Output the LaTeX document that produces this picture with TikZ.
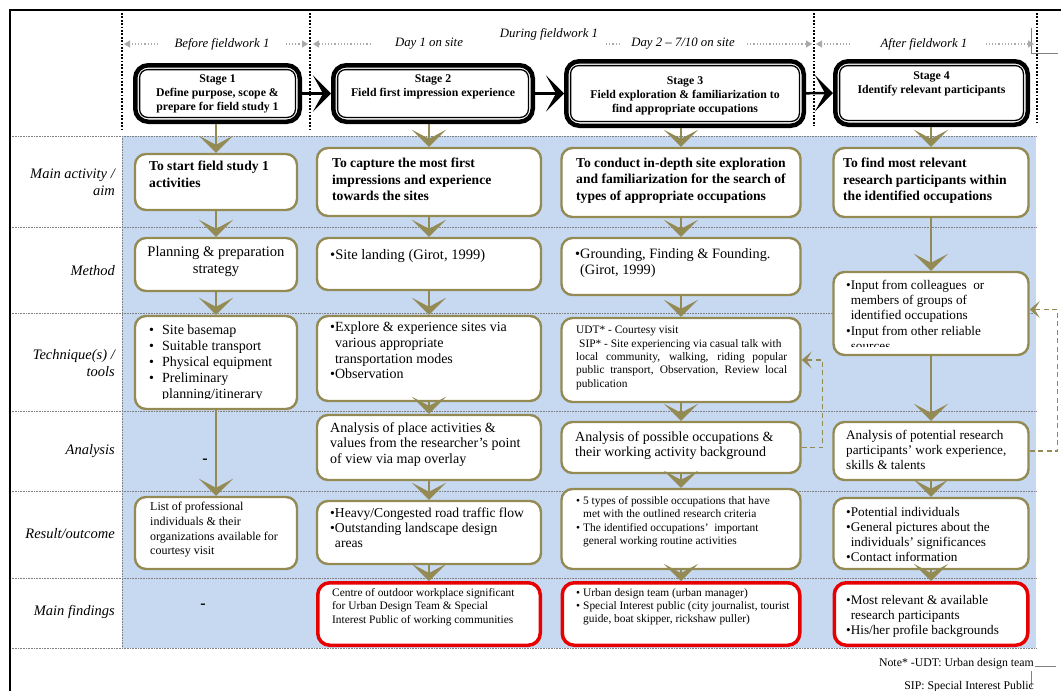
\documentclass[tikz,border=0pt]{standalone}
\usepackage{fontspec}
\setmainfont{Liberation Serif}
\usetikzlibrary{arrows.meta,positioning}

\definecolor{olivebox}{RGB}{148,138,84}
\definecolor{bandblue}{RGB}{198,217,241}
\definecolor{findred}{RGB}{230,0,0}
\definecolor{spangrey}{RGB}{170,170,170}

\newcommand{\stagefnt}{\fontsize{11.8}{14}\selectfont\bfseries}
\newcommand{\mainfnt}{\fontsize{13.6}{16.3}\selectfont\bfseries}
\newcommand{\bodyfnt}{\fontsize{14}{15.6}\selectfont}
\newcommand{\midfnt}{\fontsize{13.2}{15.2}\selectfont}
\newcommand{\smallfnt}{\fontsize{11.4}{13.4}\selectfont}
\newcommand{\labfnt}{\fontsize{14.5}{17}\selectfont\itshape}
\newcommand{\headfnt}{\fontsize{12.8}{15}\selectfont\itshape}
\newcommand{\notefnt}{\fontsize{11.8}{14}\selectfont}
\newcommand{\bul}{\textbullet}
\newcommand{\bulgap}{\hphantom{\textbullet}}

\begin{document}
\begin{tikzpicture}[x=1pt, y=-1pt,
    obox/.style={draw=olivebox, line width=2.4pt, rounded corners=11pt, fill=white, inner sep=0pt},
    rbox/.style={draw=findred, line width=3.5pt, rounded corners=12pt, fill=white, inner sep=0pt},
    stagebox/.style={draw, line width=4.5pt, rounded corners=13pt, fill=white, inner sep=0pt},
    txt/.style={anchor=north west, align=left, inner sep=0pt},
    flow/.style={draw=olivebox, line width=2pt, -{Stealth[length=17pt,width=34pt,inset=9pt]}},
    fb/.style={draw=olivebox, line width=1.5pt, dash pattern=on 5pt off 3.5pt, -{Stealth[length=10pt,width=17pt,inset=5pt]}},
    stagelink/.style={line width=2.5pt, -{Stealth[length=18pt,width=36pt,inset=10pt]}},
    span/.style={draw=spangrey, line width=1.2pt, dotted, -{Triangle[length=6pt,width=7pt]}},
    divider/.style={line width=1.8pt, dash pattern=on 1.8pt off 1.6pt},
    rowline/.style={draw=gray, line width=0.6pt, dash pattern=on 0.8pt off 0.8pt},
    rowlab/.style={anchor=east, align=right, inner sep=0pt, font=\labfnt}
]
\useasboundingbox (0,0) rectangle (1061,691);
\fill[white] (0,0) rectangle (1061,691);

% Band and grid
\fill[bandblue] (122,136) rectangle (1036,648);
\foreach \yy in {136,227,313,411,491,578,648}
    \draw[rowline] (10,\yy) -- (1036,\yy);
\draw[rowline] (122,136) -- (122,648);
\draw[line width=2pt] (1061,10) -- (10,10) -- (10,691);
\draw[gray, line width=0.5pt] (1031,28) -- (1031,53) -- (1058,53);
\draw[gray, line width=0.5pt] (1035,666) -- (1056,666);
\draw[gray, line width=0.5pt] (1031,671) -- (1031,687);

% Phase dividers
\foreach \xx/\yb in {122/130, 310/130, 814/126, 1037/122}
    \draw[divider] (\xx,13) -- (\xx,\yb);

% Phase labels
\node[font=\headfnt, inner sep=0pt] (hb) at (222,44) {Before fieldwork 1};
\node[font=\headfnt, inner sep=0pt] (hd1) at (429,44) {Day 1 on site};
\node[font=\headfnt, inner sep=0pt] (hdur) at (549,34) {During fieldwork 1};
\node[font=\headfnt, inner sep=0pt] (hd2) at (683,44) {Day 2 -- 7/10 on site};
\node[font=\headfnt, inner sep=0pt] (ha) at (924,44) {After fieldwork 1};

\coordinate (sa1) at (124,44);
\coordinate (sa2) at (308,44);
\coordinate (sa3) at (313,44);
\coordinate (sa4) at (812,44);
\coordinate (sa5) at (816,44);
\coordinate (sa6) at (1034,44);
\draw[span] ([xshift=-16pt]hb.west) -- (sa1);
\draw[span] ([xshift=16pt]hb.east) -- (sa2);
\draw[span] ([xshift=-24pt]hd1.west) -- (sa3);
\draw[draw=spangrey, line width=1.2pt, dotted] ([xshift=-25pt]hd2.west) -- ([xshift=-11pt]hd2.west);
\draw[span] ([xshift=12pt]hd2.east) -- (sa4);
\draw[span] ([xshift=-30pt]ha.west) -- (sa5);
\draw[span] ([xshift=18pt]ha.east) -- (sa6);

% Row labels
\node[rowlab] (lmain) at (115,182) {Main activity /\\aim};
\node[rowlab] (lmeth) at (115,271) {Method};
\node[rowlab] (ltech) at (115,363) {Technique(s) /\\tools};
\node[rowlab] (lanal) at (115,451) {Analysis};
\node[rowlab] (lres) at (115,534) {Result/outcome};
\node[rowlab] (lfind) at (115,612) {Main findings};

% Stages
\node[stagebox, minimum width=164.5pt, minimum height=56.5pt] (st1) at (217.5,93.5) {};
\node[stagebox, minimum width=199.5pt, minimum height=56.5pt] (st2) at (433,93.5) {};
\node[stagebox, minimum width=237.5pt, minimum height=64.5pt] (st3) at (685,93.5) {};
\node[stagebox, minimum width=192.5pt, minimum height=63.5pt] (st4) at (931.5,93) {};
\foreach \s in {st1,st2,st3,st4}
    \draw[line width=1.3pt, rounded corners=8pt] ([xshift=6.6pt,yshift=-6.6pt]\s.north west) rectangle ([xshift=-6.6pt,yshift=6.6pt]\s.south east);
\node[font=\stagefnt, align=center] (st1txt) at (217.5,94) {Stage 1\\Define purpose, scope \&\\prepare for field study 1};
\node[font=\stagefnt, align=center] (st2txt) at (433,87) {Stage 2\\Field first impression experience};
\node[font=\stagefnt, align=center] (st3txt) at (685,96) {Stage 3\\Field exploration \& familiarization to\\find appropriate occupations};
\node[font=\stagefnt, align=center] (st4txt) at (931.5,84) {Stage 4\\Identify relevant participants};
\foreach \a/\b in {st1/st2, st2/st3, st3/st4}
    \draw[stagelink] (\a) -- (\b);

% Column 1
\node[obox, minimum width=162pt, minimum height=56pt] (m1) at (216,182) {};
\node[obox, minimum width=162pt, minimum height=53pt] (me1) at (216,264.5) {};
\node[obox, minimum width=162pt, minimum height=93pt] (t1) at (216,362.5) {};
\node[obox, minimum width=162pt, minimum height=72pt] (r1) at (216,533) {};
\node[txt, font=\mainfnt] (m1txt) at (149,161) {To start field study 1\\activities};
\node[font=\fontsize{14.6}{17}\selectfont, align=center] (me1txt) at (216,262) {Planning \& preparation\\strategy};
\begin{scope}
    \clip (136,318) rectangle (296,398);
    \node[txt, font=\fontsize{14}{16}\selectfont] (t1txt) at (149,325) {\makebox[13pt][l]{\bul}Site basemap\\\makebox[13pt][l]{\bul}Suitable transport\\\makebox[13pt][l]{\bul}Physical equipment\\\makebox[13pt][l]{\bul}Preliminary\\\makebox[13pt][l]{}planning/itinerary};
\end{scope}
\node[font=\bfseries\fontsize{16}{16}\selectfont, inner sep=0pt] (a1txt) at (205,461) {-};
\node[txt, font=\fontsize{12}{14.7}\selectfont] (r1txt) at (150,502) {List of professional\\individuals \& their\\organizations available for\\courtesy visit};
\node[font=\bfseries\fontsize{16}{16}\selectfont, inner sep=0pt] (f1txt) at (203,606) {-};

% Column 2
\node[obox, minimum width=224pt, minimum height=68pt] (m2) at (429,182) {};
\node[obox, minimum width=224pt, minimum height=52pt] (me2) at (429,264) {};
\node[obox, minimum width=224pt, minimum height=85pt] (t2) at (429,358.5) {};
\node[obox, minimum width=224pt, minimum height=65pt] (a2) at (429,447.5) {};
\node[obox, minimum width=224pt, minimum height=63pt] (r2) at (429,532.5) {};
\node[rbox, minimum width=222.5pt, minimum height=62.5pt] (f2) at (429,614) {};
\node[txt, font=\mainfnt] (m2txt) at (332,158) {To capture the most first\\impressions and experience\\towards the sites};
\node[txt, font=\fontsize{14.5}{16}\selectfont] (me2txt) at (330,249) {\bul Site landing (Girot, 1999)};
\node[txt, font=\bodyfnt] (t2txt) at (330,322) {\bul Explore \& experience sites via\\\bulgap various appropriate\\\bulgap transportation modes\\\bul Observation};
\node[txt, font=\bodyfnt] (a2txt) at (330,422) {Analysis of place activities \&\\values from the researcher's point\\of view via map overlay};
\node[txt, font=\fontsize{13.6}{15}\selectfont] (r2txt) at (330,508) {\bul Heavy/Congested road traffic flow\\\bul Outstanding landscape design\\\bulgap areas};
\node[txt, font=\smallfnt] (f2txt) at (332,588) {Centre of outdoor workplace significant\\for Urban Design Team \& Special\\Interest Public of working communities};

% Column 3
\node[obox, minimum width=239pt, minimum height=69pt] (m3) at (681,182.5) {};
\node[obox, minimum width=239pt, minimum height=57pt] (me3) at (681,266.5) {};
\node[obox, minimum width=239pt, minimum height=84pt] (t3) at (681,360) {};
\node[obox, minimum width=239pt, minimum height=51pt] (a3) at (681,447.5) {};
\node[obox, minimum width=239pt, minimum height=80pt] (r3) at (681,529) {};
\node[rbox, minimum width=237.5pt, minimum height=62.5pt] (f3) at (681,614) {};
\node[txt, font=\mainfnt] (m3txt) at (576,158) {To conduct in-depth site exploration\\and familiarization for the search of\\types of appropriate occupations};
\node[txt, font=\fontsize{14.3}{16.4}\selectfont] (me3txt) at (575,248) {\bul Grounding, Finding \& Founding.\\\bulgap (Girot, 1999)};
\node[txt, font=\smallfnt] (t3txt) at (576,326) {UDT* - Courtesy visit\\\hspace{3pt}SIP* - Site experiencing via casual talk with\\\makebox[211pt][s]{local community, walking, riding popular}\\\makebox[211pt][s]{public transport, Observation, Review local}\\publication};
\node[txt, font=\bodyfnt] (a3txt) at (575,431) {Analysis of possible occupations \&\\their working activity background};
\node[txt, font=\smallfnt] (r3txt) at (576,496) {\makebox[7pt][l]{\bul}5 types of possible occupations that have\\\makebox[7pt][l]{}met with the outlined research criteria\\\makebox[7pt][l]{\bul}The identified occupations'\ \ important\\\makebox[7pt][l]{}general working routine activities};
\node[txt, font=\smallfnt] (f3txt) at (576,588) {\makebox[7pt][l]{\bul}Urban design team (urban manager)\\\makebox[7pt][l]{\bul}Special Interest public (city journalist, tourist\\\makebox[7pt][l]{}guide, boat skipper, rickshaw puller)};

% Column 4
\node[obox, minimum width=195pt, minimum height=69pt] (m4) at (931,182.5) {};
\node[obox, minimum width=195pt, minimum height=83pt] (t4) at (931,313.5) {};
\node[obox, minimum width=195pt, minimum height=58pt] (a4) at (931,451) {};
\node[obox, minimum width=195pt, minimum height=71pt] (r4) at (931,533.5) {};
\node[rbox, minimum width=193.5pt, minimum height=62.5pt] (f4) at (931,614) {};
\node[txt, font=\mainfnt] (m4txt) at (843,158) {To find most relevant\\research participants within\\the identified occupations};
\begin{scope}
    \clip (840,276) rectangle (1024,346);
    \node[txt, font=\midfnt] (t4txt) at (846,280) {\bul Input from colleagues\ \ or\\\bulgap members of groups of\\\bulgap identified occupations\\\bul Input from other reliable\\\bulgap sources};
\end{scope}
\node[txt, font=\midfnt] (a4txt) at (846,430) {Analysis of potential research\\participants' work experience,\\skills \& talents};
\node[txt, font=\midfnt] (r4txt) at (846,507) {\bul Potential individuals\\\bul General pictures about the\\\bulgap individuals' significances\\\bul Contact information};
\node[txt, font=\midfnt] (f4txt) at (846,595) {\bul Most relevant \& available\\\bulgap research participants\\\bul His/her profile backgrounds};

% Flow arrows
\foreach \s/\m in {st1/m1, st2/m2, st3/m3, st4/m4}
    \draw[flow] (\s.south -| \m) -- (\m);
\foreach \a/\b in {m1/me1, me1/t1, t1/r1, m2/me2, me2/t2, t2/a2, a2/r2, r2/f2, m3/me3, me3/t3, t3/a3, a3/r3, r3/f3, m4/t4, t4/a4, a4/r4, r4/f4}
    \draw[flow] (\a) -- (\b);

% Feedback
\draw[fb] (a3.east) -- ++(21,0) |- (t3.east);
\draw[fb] (a4.east) -- ++(28,0) |- ([yshift=4pt]t4.east);

% Note
\node[anchor=east, font=\notefnt, inner sep=0pt] (note1) at (1034,664) {Note* -UDT: Urban design team};
\node[anchor=east, font=\notefnt, inner sep=0pt] (note2) at (1034,687) {SIP: Special Interest Public};
\end{tikzpicture}
\end{document}
